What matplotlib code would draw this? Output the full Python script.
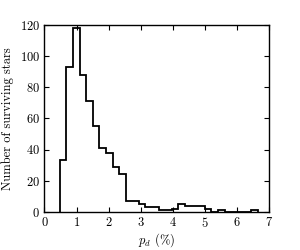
import numpy as np
import matplotlib
matplotlib.use("Agg")
import matplotlib.pyplot as plt

plt.rcParams['font.family'] = 'serif'
plt.rcParams['font.serif'] = ['cmr10']
plt.rcParams['mathtext.fontset'] = 'cm'
plt.rcParams['axes.formatter.use_mathtext'] = True

bin_start = 0.48
bin_width = 0.205
counts = [33, 93, 118, 88, 71, 55, 41, 38, 29, 24,
          7, 7, 5, 3, 3, 1, 1, 2, 5, 4,
          4, 4, 2, 0, 1, 0, 0, 0, 0, 1]
edges = bin_start + bin_width * np.arange(len(counts) + 1)

xticks = [0, 1, 2, 3, 4, 5, 6, 7]
yticks = [0, 20, 40, 60, 80, 100, 120]

fig = plt.figure(figsize=(3, 2.5), dpi=100)
ax = fig.add_axes([0.148, 0.153, 0.75, 0.747])
ax.stairs(counts, edges, color='black', linewidth=1.3)
ax.set_xlim(0, 7)
ax.set_ylim(0, 120)
ax.set_xticks(xticks)
ax.set_yticks(yticks)
ax.tick_params(direction='in', top=True, right=True, length=3.5, width=0.8,
               labelsize=9, pad=3)
for s in ax.spines.values():
    s.set_linewidth(1.0)
ax.set_xlabel(r'$p_d$ (%)', fontsize=9, labelpad=1)
ax.set_ylabel('Number of surviving stars', fontsize=9, labelpad=4)
fig.savefig('out.png', dpi=100)
